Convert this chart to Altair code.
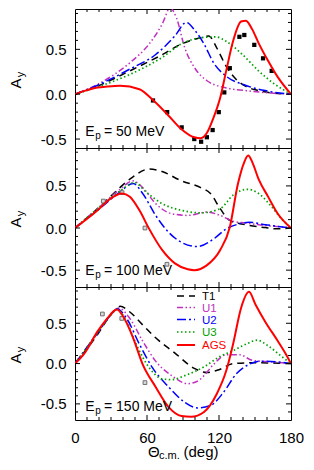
import altair as alt
import pandas as pd

SERIES = ["T1", "U1", "U2", "U3", "AGS"]

# ---------------- E_p = 50 MeV ----------------
t1_50_deg = [0, 18.8, 45.7, 72.6, 88.7, 104.8, 111.5, 118, 126, 134, 142, 153, 166.6, 180]
t1_50_ay = [0, 0.09, 0.26, 0.44, 0.56, 0.63, 0.65, 0.52, 0.31, 0.17, 0.09, 0.04, 0.01, 0]
u1_50_deg = [0, 18.8, 45.7, 61.8, 72.6, 79.3, 84.6, 91.4, 99.4, 110, 126, 142, 166, 180]
u1_50_ay = [0, 0.11, 0.35, 0.56, 0.78, 0.96, 0.85, 0.52, 0.30, 0.15, 0.07, 0.04, 0.01, 0]
u2_50_deg = [0, 18.8, 45.7, 67, 83.3, 92.7, 99.4, 107.5, 115.5, 126, 142, 158.5, 180]
u2_50_ay = [0, 0.10, 0.28, 0.44, 0.65, 0.80, 0.72, 0.56, 0.35, 0.20, 0.10, 0.04, 0]
u3_50_deg = [0, 18.8, 45.7, 72.6, 88.7, 104.8, 116.9, 126, 139.7, 153, 166.6, 180]
u3_50_ay = [0, 0.08, 0.22, 0.41, 0.56, 0.63, 0.64, 0.59, 0.44, 0.26, 0.11, 0]
ags_50_deg = [0, 8, 18.8, 26.9, 37.6, 53.7, 64.5, 78, 88.7, 99.4, 104.8, 110, 115.5,
              121, 126, 131.7, 138.4, 142.4, 147.8, 153, 161, 169, 180]
ags_50_ay = [0, 0.037, 0.074, 0.085, 0.093, 0.055, -0.06, -0.24, -0.39, -0.48, -0.49, -0.43,
             -0.26, -0.04, 0.26, 0.59, 0.81, 0.82, 0.72, 0.57, 0.37, 0.19, 0]
exp_50_deg = [65.0, 76.8, 88.9, 99.4, 105.1, 109.9, 114.7, 119.8, 124.4, 129.0, 137.0, 141.1,
              149.4, 156.7, 163.9]
exp_50_ay = [-0.07, -0.20, -0.37, -0.50, -0.53, -0.48, -0.40, -0.20, 0.02, 0.29, 0.64, 0.66,
             0.55, 0.40, 0.26]

# ---------------- E_p = 100 MeV ----------------
t1_100_deg = [0, 18.8, 32.2, 45.7, 61.8, 72.6, 88.7, 104.8, 112.9, 121, 129, 142, 158.5, 169, 180]
t1_100_ay = [0, 0.23, 0.41, 0.58, 0.70, 0.67, 0.56, 0.48, 0.41, 0.23, 0.09, 0.04, 0.005, -0.01, 0]
u1_100_deg = [0, 18.8, 37.6, 48.4, 56.4, 67.2, 80.6, 94, 110, 121, 131.7, 142, 158.5, 174.6, 180]
u1_100_ay = [0, 0.23, 0.46, 0.56, 0.48, 0.29, 0.17, 0.15, 0.19, 0.15, 0.08, 0.06, 0.03, 0.01, 0]
u2_100_deg = [0, 18.8, 37.6, 48.4, 56.4, 67.2, 78, 88.7, 102, 115.5, 126, 137, 145, 158.5, 174.6, 180]
u2_100_ay = [0, 0.21, 0.43, 0.53, 0.41, 0.15, -0.05, -0.17, -0.22, -0.13, -0.01, 0.05, 0.07, 0.04, 0.01, 0]
u3_100_deg = [0, 18.8, 37.6, 49.7, 59.1, 72.6, 88.7, 104.8, 121, 131.7, 143.8, 153, 164, 172, 180]
u3_100_ay = [0, 0.23, 0.44, 0.54, 0.43, 0.29, 0.21, 0.18, 0.23, 0.39, 0.46, 0.41, 0.25, 0.11, 0]
ags_100_deg = [0, 18.8, 29.6, 39.2, 45.7, 53.7, 61.8, 72.6, 83.3, 94, 99.4, 110, 121, 129,
               135.7, 141, 144.3, 147.8, 153, 161, 169, 180]
ags_100_ay = [0, 0.21, 0.35, 0.41, 0.37, 0.21, -0.01, -0.26, -0.42, -0.49, -0.50, -0.44, -0.26,
              0.01, 0.52, 0.78, 0.86, 0.78, 0.58, 0.37, 0.17, 0]
exp_100_deg = [23.6, 39.2, 58.3, 76.6]
exp_100_ay = [0.32, 0.42, 0.0, -0.43]

# ---------------- E_p = 150 MeV ----------------
t1_150_deg = [0, 18.8, 29.6, 37.6, 45.7, 56.4, 67.2, 83.3, 99.4, 110, 121, 131.7, 147.8, 180]
t1_150_ay = [0, 0.36, 0.60, 0.71, 0.64, 0.48, 0.32, 0.13, -0.06, -0.11, -0.07, 0, 0.01, 0]
u1_150_deg = [0, 18.8, 29.6, 36.3, 45.7, 56.4, 67.2, 80.6, 94, 104.8, 115.5, 126, 137, 147.8, 164, 180]
u1_150_ay = [0, 0.38, 0.60, 0.69, 0.56, 0.28, 0.03, -0.15, -0.25, -0.19, -0.01, 0.11, 0.11, 0.04, 0.02, 0]
u2_150_deg = [0, 18.8, 29.6, 35, 43, 53.7, 64.5, 78, 91.4, 102, 112.9, 123.6, 134.3, 145, 155.8, 169, 180]
u2_150_ay = [0, 0.38, 0.60, 0.68, 0.56, 0.24, -0.05, -0.29, -0.48, -0.55, -0.52, -0.36, -0.13, -0.01, 0.03, 0.02, 0]
u3_150_deg = [0, 18.8, 30.9, 35, 43, 51, 61.8, 72.6, 80.6, 91.4, 107.5, 121, 131.7, 142.4, 151.8, 161, 172, 180]
u3_150_ay = [0, 0.38, 0.62, 0.67, 0.52, 0.24, -0.05, -0.19, -0.20, -0.15, -0.04, 0.09, 0.16, 0.24, 0.29, 0.22, 0.09, 0]
ags_150_deg = [0, 8, 18.8, 26.9, 32.2, 35, 40.3, 48.4, 56.4, 67.2, 78, 88.7, 96.7, 107.5, 118,
               126, 131.7, 138.4, 145, 150.5, 158.5, 169, 176, 180]
ags_150_ay = [0, 0.13, 0.40, 0.56, 0.65, 0.67, 0.58, 0.32, -0.01, -0.29, -0.54, -0.65, -0.66,
              -0.60, -0.38, -0.09, 0.24, 0.69, 0.89, 0.73, 0.52, 0.28, 0.11, 0]
exp_150_deg = [22.8, 39.0, 58.3]
exp_150_ay = [0.615, 0.56, -0.236]

X_TICK_LABELS = [0, 60, 120, 180]
Y_TICK_LABELS = [-0.5, 0.0, 0.5]

STYLE = {
    "T1": dict(color="#000000", dash=[7, 5], width=1.5),
    "U1": dict(color="#c030c0", dash=[6, 2.5, 1.5, 2.5, 1.5, 2.5], width=1.5),
    "U2": dict(color="#0000ff", dash=[9, 3, 2, 3], width=1.5),
    "U3": dict(color="#00a000", dash=[1.5, 2.5], width=1.7),
    "AGS": dict(color="#ff0000", dash=None, width=2),
}

W = 216
FONT = "Liberation Sans"


def txt(s, x, y, size, color="black", align="left", baseline="alphabetic", angle=None):
    kw = dict(text=s, fontSize=size, color=color, align=align, baseline=baseline, font=FONT)
    if angle is not None:
        kw["angle"] = angle
    return alt.Chart(pd.DataFrame({"d": [0]})).mark_text(**kw).encode(
        x=alt.value(x), y=alt.value(y))


def panel(curves, exp_x, exp_y, filled, H, ydom, energy, ep_off, bottom=False, legend=False):
    xs = alt.Scale(domain=[0, 180], nice=False, zero=False)
    ys = alt.Scale(domain=ydom, nice=False, zero=False)
    if bottom:
        xaxis = alt.Axis(values=X_TICK_LABELS, ticks=False, domain=False, grid=False,
                         labelPadding=10, labelFontSize=15, labelFont=FONT, title=None,
                         labelColor="black", labelFlush=False)
    else:
        xaxis = None
    yaxis = alt.Axis(values=Y_TICK_LABELS, ticks=False, domain=False, grid=False,
                     labelPadding=9, labelFontSize=15, labelFont=FONT, title=None,
                     labelColor="black",
                     labelExpr="datum.value < 0 ? '-' + format(-datum.value, '.1f') : format(datum.value, '.1f')")

    def X(f):
        return alt.X(f, scale=xs, axis=xaxis)

    def Y(f):
        return alt.Y(f, scale=ys, axis=yaxis)

    layers = []
    for name in SERIES:
        xd, yd = curves[name]
        df = pd.DataFrame({"deg": xd, "ay": yd})
        st = STYLE[name]
        kw = dict(color=st["color"], strokeWidth=st["width"], interpolate="monotone", clip=True)
        if st["dash"]:
            kw["strokeDash"] = st["dash"]
        layers.append(alt.Chart(df).mark_line(**kw).encode(x=X("deg:Q"), y=Y("ay:Q")))
    edf = pd.DataFrame({"deg": exp_x, "ay": exp_y})
    if filled:
        pm = alt.Chart(edf).mark_square(color="black", size=18, opacity=1)
    else:
        pm = alt.Chart(edf).mark_square(fill="#d8d8d8", stroke="#707070", strokeWidth=1, size=14, opacity=1)
    layers.insert(len(layers) - 1, pm.encode(x=X("deg:Q"), y=Y("ay:Q")))

    # inward ticks on all four sides
    x_major = [60, 120]
    x_minor = [v for v in range(10, 180, 10) if v % 60 != 0]
    lo = int(round(ydom[0] * 10)) + 1
    hi = int(round(ydom[1] * 10))
    y_all = [k / 10 for k in range(lo, hi + 1) if k / 10 < ydom[1]]
    y_major = [v for v in y_all if abs(v * 2 - round(v * 2)) < 1e-9]
    y_minor = [v for v in y_all if v not in y_major]
    for vals, L in [(x_minor, 3), (x_major, 5)]:
        base = alt.Chart(pd.DataFrame({"v": vals})).mark_rule(color="black", strokeWidth=1)
        layers.append(base.encode(x=X("v:Q"), y=alt.value(H), y2=alt.value(H - L)))
        layers.append(base.encode(x=X("v:Q"), y=alt.value(0), y2=alt.value(L)))
    for vals, L in [(y_minor, 3), (y_major, 5)]:
        base = alt.Chart(pd.DataFrame({"v": vals})).mark_rule(color="black", strokeWidth=1)
        layers.append(base.encode(y=Y("v:Q"), x=alt.value(0), x2=alt.value(L)))
        layers.append(base.encode(y=Y("v:Q"), x=alt.value(W), x2=alt.value(W - L)))

    # energy label E_p = ... MeV
    yb = H - ep_off
    layers.append(txt("E", 10.2, yb, 14))
    layers.append(txt("p", 20.3, yb + 3, 10))
    layers.append(txt("= %d MeV" % energy, 29, yb, 14))

    # y-axis title A_y
    layers.append(txt("A", -54.5, H / 2 + 5, 15, align="center", angle=270))
    layers.append(txt("y", -51.5, H / 2 - 4, 11, align="center", angle=270))

    if legend:
        rows = [9, 20.5, 32.5, 45, 58]
        for i, name in enumerate(SERIES):
            st = STYLE[name]
            kw = dict(color=st["color"], strokeWidth=st["width"])
            if st["dash"]:
                kw["strokeDash"] = st["dash"]
            layers.append(alt.Chart(pd.DataFrame({"d": [name]})).mark_rule(**kw).encode(
                x=alt.value(102), x2=alt.value(120), y=alt.value(rows[i])))
            layers.append(txt(name, 127, rows[i] + 4, 11.5, color=st["color"]))

    if bottom:
        c = W / 2
        layers.append(txt("Θ", c - 35, H + 37, 15))
        layers.append(txt("c.m.", c - 24, H + 39, 11))
        layers.append(txt("(deg)", c + 0.5, H + 37, 15))

    return alt.layer(*layers).properties(width=W, height=H)


p1 = panel({"T1": (t1_50_deg, t1_50_ay), "U1": (u1_50_deg, u1_50_ay), "U2": (u2_50_deg, u2_50_ay),
            "U3": (u3_50_deg, u3_50_ay), "AGS": (ags_50_deg, ags_50_ay)},
           exp_50_deg, exp_50_ay, True, 139, [-0.6, 0.95], 50, 12)
p2 = panel({"T1": (t1_100_deg, t1_100_ay), "U1": (u1_100_deg, u1_100_ay), "U2": (u2_100_deg, u2_100_ay),
            "U3": (u3_100_deg, u3_100_ay), "AGS": (ags_100_deg, ags_100_ay)},
           exp_100_deg, exp_100_ay, False, 139, [-0.7, 0.95], 100, 12)
p3 = panel({"T1": (t1_150_deg, t1_150_ay), "U1": (u1_150_deg, u1_150_ay), "U2": (u2_150_deg, u2_150_ay),
            "U3": (u3_150_deg, u3_150_ay), "AGS": (ags_150_deg, ags_150_ay)},
           exp_150_deg, exp_150_ay, False, 133, [-0.7, 0.95], 150, 9.5, bottom=True, legend=True)

chart = alt.vconcat(p1, p2, p3, spacing=0, bounds="flush").properties(
    padding={"left": 0, "top": 0, "right": 0, "bottom": 0}
).configure(font=FONT).configure_view(stroke="black", strokeWidth=1)

chart.save("out.html", embed_options={"renderer": "svg", "actions": False})
